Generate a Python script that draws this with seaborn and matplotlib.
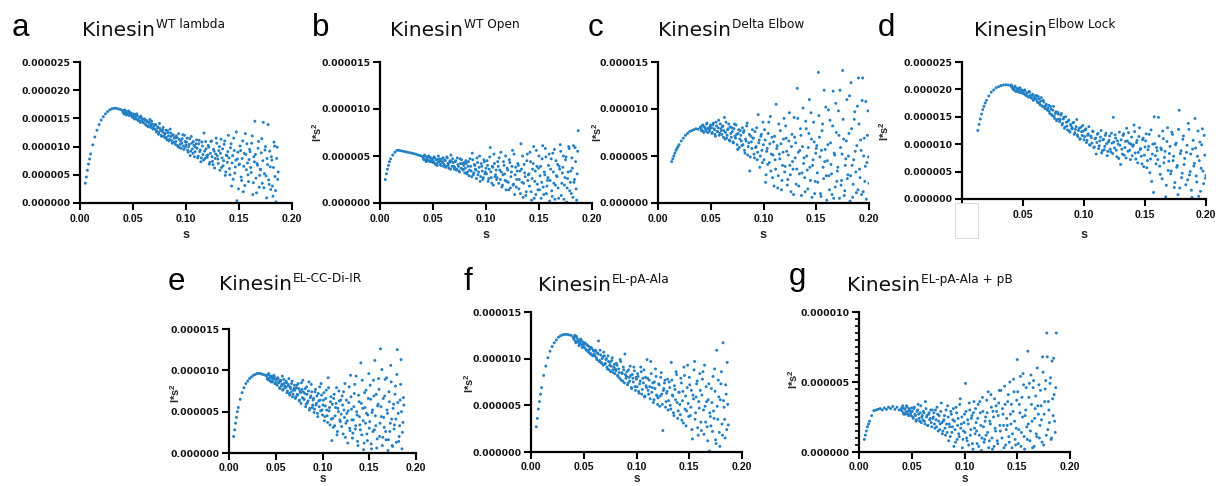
import numpy as np
import pandas as pd
import matplotlib
matplotlib.use("Agg")
import matplotlib.pyplot as plt
import seaborn as sns
from matplotlib.patches import Rectangle
from matplotlib.ticker import FixedLocator

W, H = 1218, 486

# ---------------- data ----------------
# main s grid in 1e-3 units, half-step s grid in 1e-4 units, I*s^2 in 1e-6 units
S_GRID_A = [5, 6, 7, 8, 9, 10, 12, 14, 16, 18, 20, 22, 24, 26, 28, 30, 32, 34, 36, 38, 40,
            41, 42, 43, 44, 45, 46, 47, 48, 49, 50,
            51, 52, 53, 54, 55, 56, 57, 58, 59, 60,
            61, 62, 63, 64, 65, 66, 67, 68, 69, 70,
            71, 72, 73, 74, 75, 76, 77, 78, 79, 80,
            81, 82, 83, 84, 85, 86, 87, 88, 89, 90,
            91, 92, 93, 94, 95, 96, 97, 98, 99, 100,
            101, 102, 103, 104, 105, 106, 107, 108, 109, 110,
            111, 112, 113, 114, 115, 116, 117, 118, 119, 120,
            121, 122, 123, 124, 125, 126, 127, 128, 129, 130,
            131, 132, 133, 134, 135, 136, 137, 138, 139, 140,
            141, 142, 143, 144, 145, 146, 147, 148, 149, 150,
            151, 152, 153, 154, 155, 156, 157, 158, 159, 160,
            161, 162, 163, 164, 165, 166, 167, 168, 169, 170,
            171, 172, 173, 174, 175, 176, 177, 178, 179, 180,
            181, 182, 183, 184, 185, 186, 187]

S_GRID_C = [13, 14, 15, 16, 17, 18, 19, 20, 22, 24, 26, 28, 30, 32, 34, 36, 38, 40,
            41, 42, 43, 44, 45, 46, 47, 48, 49, 50,
            51, 52, 53, 54, 55, 56, 57, 58, 59, 60,
            61, 62, 63, 64, 65, 66, 67, 68, 69, 70,
            71, 72, 73, 74, 75, 76, 77, 78, 79, 80,
            81, 82, 83, 84, 85, 86, 87, 88, 89, 90,
            91, 92, 93, 94, 95, 96, 97, 98, 99, 100,
            101, 102, 103, 104, 105, 106, 107, 108, 109, 110,
            111, 112, 113, 114, 115, 116, 117, 118, 119, 120,
            121, 122, 123, 124, 125, 126, 127, 128, 129, 130,
            131, 132, 133, 134, 135, 136, 137, 138, 139, 140,
            141, 142, 143, 144, 145, 146, 147, 148, 149, 150,
            151, 152, 153, 154, 155, 156, 157, 158, 159, 160,
            161, 162, 163, 164, 165, 166, 167, 168, 169, 170,
            171, 172, 173, 174, 175, 176, 177, 178, 179, 180,
            181, 182, 183, 184, 185, 186, 187, 188, 189, 190,
            191, 192, 193, 194, 195, 196, 197, 198, 199, 200]

S_HALF_A = [405, 415, 425, 435, 445, 455, 465, 475, 485, 495,
            505, 515, 525, 535, 545, 555, 565, 575, 585, 595,
            605, 615, 625, 635, 645, 655, 665, 675, 685, 695,
            705, 715, 725, 735, 745, 755, 765, 775, 785, 795,
            805, 815, 825, 835, 845, 855, 865, 875, 885, 895,
            905, 915, 925, 935, 945, 955, 965, 975, 985, 995,
            1005, 1015, 1025, 1035, 1045, 1055, 1065, 1075, 1085, 1095,
            1105, 1115, 1125, 1135, 1145, 1155, 1165, 1175, 1185, 1195,
            1205, 1215, 1225, 1235, 1245, 1255, 1265, 1275, 1285, 1295,
            1305, 1315, 1325, 1335, 1345, 1355, 1365, 1375, 1385, 1395,
            1405, 1415, 1425, 1435, 1445, 1455, 1465, 1475, 1485, 1495,
            1505, 1515, 1525, 1535, 1545, 1555, 1565, 1575, 1585, 1595,
            1605, 1615, 1625, 1635, 1645, 1655, 1665, 1675, 1685, 1695,
            1705, 1715, 1725, 1735, 1745, 1755, 1765, 1775, 1785, 1795,
            1805, 1815, 1825, 1835, 1845, 1855, 1865]

S_HALF_C = [405, 415, 425, 435, 445, 455, 465, 475, 485, 495,
            505, 515, 525, 535, 545, 555, 565, 575, 585, 595,
            605, 615, 625, 635, 645, 655, 665, 675, 685, 695,
            705, 715, 725, 735, 745, 755, 765, 775, 785, 795,
            805, 815, 825, 835, 845, 855, 865, 875, 885, 895,
            905, 915, 925, 935, 945, 955, 965, 975, 985, 995,
            1005, 1015, 1025, 1035, 1045, 1055, 1065, 1075, 1085, 1095,
            1105, 1115, 1125, 1135, 1145, 1155, 1165, 1175, 1185, 1195,
            1205, 1215, 1225, 1235, 1245, 1255, 1265, 1275, 1285, 1295,
            1305, 1315, 1325, 1335, 1345, 1355, 1365, 1375, 1385, 1395,
            1405, 1415, 1425, 1435, 1445, 1455, 1465, 1475, 1485, 1495,
            1505, 1515, 1525, 1535, 1545, 1555, 1565, 1575, 1585, 1595,
            1605, 1615, 1625, 1635, 1645, 1655, 1665, 1675, 1685, 1695,
            1705, 1715, 1725, 1735, 1745, 1755, 1765, 1775, 1785, 1795,
            1805, 1815, 1825, 1835, 1845, 1855, 1865, 1875, 1885, 1895,
            1905, 1915, 1925, 1935, 1945, 1955, 1965, 1975, 1985, 1995]

# ---- panel a: Kinesin WT lambda ----
Y_WT_LAMBDA = [3.5, 4.6, 5.8, 6.9, 7.8, 8.7, 10.3, 11.7, 12.9, 13.9, 14.7, 15.3, 15.8, 16.2, 16.5, 16.7, 16.8, 16.8, 16.7, 16.6, 16.4,
               16.0, 16.5, 15.9, 16.2, 15.7, 16.3, 15.6, 15.9, 15.3, 15.8,
               15.1, 15.7, 14.9, 15.5, 14.6, 15.2, 14.3, 15.0, 14.8, 14.2,
               14.9, 13.9, 14.6, 13.6, 14.3, 14.8, 13.4, 14.0, 13.1, 13.9,
               13.8, 12.6, 13.3, 12.2, 14.1, 12.9, 11.8, 13.0, 12.4, 11.6,
               12.9, 11.2, 12.5, 11.0, 13.1, 11.8, 10.6, 12.1, 11.5, 10.4,
               11.9, 10.2, 12.3, 9.8, 11.0, 10.6, 12.1, 9.5, 10.9, 10.3,
               11.5, 9.0, 10.4, 8.4, 11.8, 9.6, 10.9, 8.2, 9.9, 11.2,
               8.0, 10.5, 9.1, 7.3, 10.8, 8.6, 12.4, 7.9, 9.6, 8.1,
               10.2, 6.9, 8.8, 11.0, 7.4, 9.5, 6.2, 8.7, 10.6, 7.8,
               9.3, 5.8, 11.3, 8.0, 6.6, 10.4, 4.9, 8.5, 7.2, 12.0,
               6.1, 9.8, 3.0, 8.4, 11.5, 5.3, 7.6, 0.4, 9.0, 6.8,
               10.1, 4.6, 7.9, 2.0, 8.8, 12.3, 5.9, 7.1, 3.8, 9.5,
               6.3, 10.6, 1.5, 8.2, 14.5, 4.4, 7.0, 9.7, 2.8, 6.0,
               8.9, 3.5, 14.3, 5.2, 10.0, 0.9, 6.8, 4.1, 9.2, 2.4,
               7.6, 1.2, 10.8, 4.7, 0.2, 9.9, 5.5]
Y_WT_LAMBDA_HALF = [16.2, 15.8, 16.4, 15.6, 16.1, 15.9, 15.5, 16.0, 15.6, 15.2,
                    15.6, 14.9, 15.3, 15.8, 14.7, 15.0, 14.5, 15.4, 14.4, 14.9,
                    14.2, 14.7, 13.8, 14.4, 13.5, 14.1, 13.7, 14.5, 13.3, 13.6,
                    13.1, 13.9, 12.8, 13.5, 12.5, 13.2, 12.0, 12.7, 13.4, 11.9,
                    12.3, 11.6, 12.8, 11.9, 11.3, 12.4, 11.1, 12.0, 10.8, 11.6,
                    10.9, 11.6, 10.0, 11.3, 10.4, 9.7, 11.4, 10.1, 12.0, 9.9,
                    10.8, 9.4, 10.0, 11.4, 9.2, 10.6, 8.8, 10.2, 9.1, 10.5,
                    9.7, 8.3, 11.1, 9.4, 8.0, 10.1, 7.6, 9.2, 10.9, 8.4,
                    8.5, 9.9, 7.2, 10.9, 8.2, 6.8, 9.2, 7.9, 11.5, 8.4,
                    7.0, 10.0, 8.8, 6.3, 9.6, 7.5, 11.0, 5.5, 8.4, 9.1,
                    8.0, 5.0, 10.5, 7.1, 4.2, 9.3, 6.4, 12.6, 7.8, 2.5,
                    6.9, 9.3, 4.0, 11.0, 6.5, 3.1, 8.6, 10.5, 5.0, 7.7,
                    9.1, 5.4, 11.9, 3.6, 7.3, 8.6, 1.8, 6.7, 10.9, 4.9,
                    5.9, 11.4, 7.5, 2.7, 9.4, 4.8, 7.9, 13.9, 3.3, 6.4,
                    8.2, 3.0, 6.3, 10.1, 2.2, 7.9, 4.2]

# ---- panel b: Kinesin WT Open ----
Y_WT_OPEN = [2.5, 3.1, 3.6, 4.0, 4.4, 4.7, 5.1, 5.4, 5.6, 5.6, 5.55, 5.5, 5.45, 5.4, 5.35, 5.3, 5.25, 5.2, 5.1, 5.05, 4.95,
             4.7, 5.1, 4.6, 4.9, 4.5, 5.0, 4.4, 4.8, 4.6, 4.3,
             4.9, 4.2, 4.6, 4.0, 5.0, 4.4, 4.1, 4.7, 4.3, 3.9,
             4.6, 3.8, 4.9, 4.2, 3.7, 4.5, 5.1, 3.9, 4.3, 3.6,
             4.4, 3.5, 4.8, 3.9, 3.3, 4.2, 4.6, 3.6, 4.0, 3.2,
             4.5, 3.1, 3.9, 2.9, 4.7, 3.4, 5.3, 3.0, 4.1, 3.6,
             2.6, 4.3, 3.3, 5.0, 2.8, 3.9, 2.5, 4.6, 3.1, 3.7,
             4.5, 2.3, 3.6, 5.9, 2.7, 3.9, 1.9, 4.2, 3.0, 2.5,
             4.4, 2.1, 3.5, 5.4, 1.7, 3.0, 4.0, 2.4, 1.4, 3.7,
             2.2, 4.6, 1.6, 3.3, 5.6, 2.0, 0.9, 3.8, 2.5, 4.2,
             1.5, 3.4, 6.3, 2.2, 0.6, 4.1, 2.8, 1.2, 5.2, 3.0,
             1.8, 4.4, 0.3, 3.6, 6.0, 2.3, 0.9, 3.9, 1.4, 5.0,
             2.9, 0.5, 4.7, 1.7, 3.3, 5.8, 1.0, 2.4, 4.0, 0.2,
             3.6, 1.3, 5.3, 2.1, 0.4, 4.5, 2.8, 1.6, 3.9, 6.2,
             0.8, 3.2, 5.0, 1.9, 4.6, 0.1, 2.6, 6.0, 1.3, 3.4,
             4.8, 0.6, 2.2, 5.9, 1.5, 3.1, 7.7]
Y_WT_OPEN_HALF = [4.9, 4.6, 5.0, 4.4, 4.7, 4.9, 4.5, 4.8, 4.4, 4.7,
                  4.4, 4.8, 4.1, 4.6, 4.3, 4.7, 4.5, 4.0, 4.4, 4.8,
                  4.1, 4.5, 3.9, 4.8, 4.0, 4.3, 3.6, 4.4, 4.7, 3.9,
                  3.8, 4.5, 3.6, 4.1, 3.4, 4.7, 3.7, 4.2, 3.5, 4.3,
                  3.7, 4.2, 3.3, 4.4, 3.5, 3.9, 2.8, 4.6, 3.2, 4.0,
                  3.5, 4.8, 3.0, 3.8, 2.3, 4.2, 3.4, 2.7, 4.4, 3.3,
                  3.1, 4.0, 2.6, 4.9, 3.3, 2.1, 3.8, 5.2, 2.8, 3.5,
                  2.7, 3.9, 4.8, 2.5, 3.3, 1.9, 4.4, 3.1, 5.0, 2.3,
                  3.5, 1.4, 4.3, 2.8, 3.9, 1.9, 5.2, 3.0, 1.7, 3.4,
                  4.0, 2.5, 1.0, 3.6, 5.0, 2.1, 3.2, 0.8, 4.5, 2.4,
                  3.1, 5.4, 1.2, 2.6, 4.2, 0.5, 3.4, 5.6, 2.0, 3.7,
                  1.4, 3.9, 2.2, 6.1, 0.9, 3.0, 4.9, 1.8, 2.7, 5.2,
                  2.4, 4.7, 0.7, 3.3, 5.7, 1.9, 2.9, 4.1, 0.5, 3.6,
                  5.5, 2.1, 3.8, 0.4, 2.7, 4.9, 1.6, 3.3, 5.8, 2.2,
                  1.0, 3.7, 6.1, 2.5, 4.4, 0.3, 5.5]

# ---- panel c: Kinesin Delta Elbow ----
Y_DELTA_ELBOW = [4.4, 4.7, 5.0, 5.3, 5.6, 5.8, 6.0, 6.2, 6.6, 6.9, 7.2, 7.4, 7.6, 7.7, 7.8, 7.9, 7.85, 8.0,
                 7.7, 8.2, 7.6, 8.1, 7.9, 8.4, 7.5, 8.0, 7.8, 8.3,
                 7.4, 8.3, 7.9, 7.3, 8.6, 7.6, 8.0, 7.2, 8.4, 7.7,
                 8.1, 7.0, 9.1, 7.5, 6.9, 7.8, 8.4, 6.6, 7.4, 8.0,
                 6.5, 7.9, 7.1, 8.3, 6.2, 7.4, 5.9, 7.7, 6.6, 8.0,
                 7.5, 5.6, 6.8, 8.2, 5.1, 6.4, 3.4, 7.1, 5.8, 6.9,
                 5.2, 7.6, 6.0, 4.6, 9.4, 6.7, 5.0, 7.3, 4.3, 6.2,
                 7.8, 2.2, 5.5, 4.1, 8.6, 6.3, 3.4, 7.0, 5.1, 1.8,
                 4.6, 10.5, 6.1, 2.9, 5.2, 7.7, 1.4, 4.0, 6.8, 3.3,
                 8.2, 5.5, 2.5, 6.6, 4.0, 1.2, 7.3, 3.6, 9.1, 4.8,
                 2.0, 12.2, 5.4, 3.1, 7.9, 0.8, 6.0, 4.2, 2.7, 8.7,
                 5.0, 1.5, 7.4, 3.8, 9.6, 0.6, 4.6, 6.5, 2.3, 5.8,
                 3.2, 13.9, 7.0, 1.0, 5.6, 8.4, 2.6, 4.4, 10.2, 0.3,
                 6.2, 2.9, 8.8, 4.1, 0.9, 11.9, 5.3, 1.7, 7.5, 3.4,
                 9.8, 0.5, 5.9, 2.4, 14.1, 6.8, 1.3, 4.7, 11.0, 3.0,
                 7.4, 0.2, 12.8, 4.0, 2.0, 8.9, 5.5, 1.1, 10.3, 13.3,
                 3.6, 6.7, 0.9, 13.3, 5.0, 2.3, 10.8, 4.3, 9.8, 2.1]
Y_DELTA_ELBOW_HALF = [8.1, 7.8, 8.3, 7.5, 8.0, 7.7, 8.5, 7.9, 7.6, 8.2,
                      8.0, 7.5, 8.5, 7.8, 7.1, 8.2, 7.6, 8.8, 7.4, 7.9,
                      7.3, 8.2, 7.7, 6.8, 8.6, 7.2, 7.9, 6.7, 8.1, 7.0,
                      7.6, 6.4, 8.4, 6.9, 7.3, 5.7, 7.8, 6.8, 7.2, 6.1,
                      6.2, 7.7, 5.3, 6.6, 8.5, 6.0, 7.3, 4.9, 6.5, 7.8,
                      6.9, 4.8, 5.9, 8.0, 5.4, 6.4, 3.8, 7.1, 5.6, 8.6,
                      4.6, 6.7, 3.0, 5.8, 7.4, 4.3, 9.2, 5.2, 2.7, 6.5,
                      7.1, 3.6, 5.8, 1.6, 8.4, 4.7, 6.3, 2.4, 5.4, 9.0,
                      3.9, 6.9, 1.9, 5.1, 9.6, 3.0, 6.0, 4.4, 0.9, 7.0,
                      6.4, 3.6, 9.0, 1.8, 5.6, 7.2, 3.2, 10.1, 4.8, 1.2,
                      7.9, 3.5, 5.9, 11.0, 2.4, 6.8, 4.0, 8.6, 1.0, 5.3,
                      6.1, 2.2, 9.3, 4.9, 0.7, 7.7, 3.8, 12.0, 5.7, 2.9,
                      4.5, 9.9, 1.4, 6.4, 3.1, 8.2, 0.5, 5.1, 10.6, 2.3,
                      3.8, 7.2, 12.0, 1.9, 5.2, 8.9, 0.8, 4.0, 6.6, 2.6,
                      5.0, 11.4, 2.9, 7.9, 0.6, 4.6, 9.7, 3.3, 6.1, 1.4,
                      8.4, 2.7, 5.6, 10.9, 1.2, 6.9, 3.9, 0.4, 7.2, 4.9]

# ---- panel d: Kinesin Elbow Lock ----
Y_ELBOW_LOCK = [12.5, 13.6, 14.6, 15.5, 16.3, 16.9, 17.5, 18.0, 18.8, 19.5, 19.9, 20.3, 20.5, 20.7, 20.8, 20.85, 20.8, 20.6,
                20.5, 20.0, 20.3, 19.7, 20.2, 19.8, 20.1, 19.4, 19.9, 19.3,
                19.7, 19.0, 19.4, 18.7, 19.6, 18.9, 18.4, 19.1, 18.2, 18.8,
                18.9, 17.6, 18.3, 17.2, 18.5, 16.9, 17.7, 16.5, 17.3, 16.2,
                17.1, 15.6, 16.4, 15.2, 16.9, 14.7, 15.9, 14.5, 15.5, 14.1,
                15.3, 13.5, 14.6, 12.9, 15.0, 13.3, 14.2, 12.4, 13.6, 12.8,
                13.9, 11.8, 12.7, 14.5, 11.4, 12.9, 11.0, 12.3, 13.4, 10.8,
                12.6, 10.3, 11.6, 13.2, 9.8, 11.2, 12.4, 9.4, 11.0, 8.2,
                11.8, 9.2, 10.6, 12.5, 8.8, 10.9, 9.6, 12.0, 7.9, 10.4,
                11.5, 8.6, 10.2, 14.9, 9.3, 11.1, 7.7, 10.0, 12.2, 6.3,
                9.1, 11.6, 8.0, 10.5, 12.9, 8.7, 10.2, 7.2, 11.3, 9.6,
                13.5, 8.4, 10.3, 6.6, 11.4, 9.0, 7.8, 10.8, 5.9, 9.5,
                11.9, 7.0, 9.6, 4.8, 12.6, 8.2, 1.2, 10.1, 6.4, 8.8,
                14.9, 6.0, 9.3, 3.7, 11.0, 7.6, 0.4, 10.5, 5.2, 8.3,
                4.6, 12.2, 7.0, 2.1, 9.9, 5.8, 0.8, 16.2, 8.3, 3.9,
                10.9, 6.3, -0.3, 8.5, 3.5, 12.7, 5.0, 1.6, 9.1, 6.0,
                14.7, 4.2, 7.8, 0.5, 10.4, 5.6, 12.8, 2.8, 8.0, 4.3]
Y_ELBOW_LOCK_HALF = [20.8, 20.2, 19.9, 20.6, 19.6, 20.1, 19.5, 20.3, 19.6, 19.8,
                     19.2, 19.9, 18.9, 19.3, 18.6, 19.5, 18.5, 18.9, 18.0, 18.6,
                     18.3, 17.9, 18.7, 17.5, 17.9, 17.0, 18.0, 16.8, 17.0, 16.4,
                     16.6, 16.0, 16.9, 15.4, 16.2, 15.1, 15.6, 14.3, 15.8, 14.6,
                     14.5, 15.6, 13.8, 14.9, 13.1, 14.0, 12.6, 14.4, 12.2, 13.3,
                     12.9, 14.0, 12.1, 13.2, 11.7, 12.5, 10.9, 13.1, 11.6, 12.4,
                     11.4, 12.8, 10.7, 11.9, 9.9, 11.5, 10.2, 12.3, 9.5, 11.1,
                     10.3, 12.0, 9.7, 11.3, 8.4, 10.8, 9.0, 11.6, 10.1, 8.7,
                     10.7, 9.1, 12.0, 8.3, 10.4, 11.7, 8.9, 10.6, 7.4, 9.8,
                     10.8, 8.2, 11.9, 9.4, 7.5, 10.6, 12.1, 8.9, 10.0, 7.9,
                     9.9, 12.3, 7.3, 10.7, 8.5, 13.0, 9.2, 6.4, 11.1, 8.0,
                     10.6, 5.7, 9.0, 11.8, 7.3, 3.2, 10.0, 15.0, 7.9, 9.4,
                     7.2, 11.5, 4.5, 9.0, 12.4, 6.6, 8.7, 2.5, 13.0, 6.9,
                     9.6, 5.1, 11.8, 7.8, 3.0, 10.2, 6.1, 12.7, 2.0, 8.8,
                     4.7, 11.5, 7.4, 2.6, 9.8, 13.8, 4.4, 8.2, 0.3, 10.7,
                     6.5, 9.3, 3.1, 12.4, 7.0, 1.4, 9.9, 5.1, 11.6, 3.8]

# ---- panel e: Kinesin EL-CC-Di-IR ----
Y_EL_CC_DI_IR = [2.0, 2.8, 3.6, 4.3, 5.0, 5.5, 6.5, 7.3, 7.9, 8.4, 8.7, 9.0, 9.2, 9.4, 9.5, 9.6, 9.65, 9.6, 9.5, 9.45, 9.3,
                 9.0, 9.5, 8.8, 9.3, 8.6, 9.1, 8.9, 9.4, 8.4, 8.9,
                 8.3, 9.1, 8.6, 7.9, 8.8, 8.1, 9.3, 7.7, 8.4, 8.0,
                 8.7, 7.3, 8.1, 9.0, 7.0, 7.8, 8.4, 6.8, 7.6, 8.2,
                 6.6, 7.9, 7.1, 8.4, 6.3, 7.5, 6.0, 7.7, 8.8, 6.5,
                 7.2, 5.6, 8.0, 6.1, 7.5, 5.2, 6.7, 8.3, 5.5, 6.4,
                 4.9, 7.4, 5.8, 6.9, 4.4, 6.3, 8.0, 5.1, 7.0, 4.6,
                 6.4, 3.9, 5.7, 7.6, 4.5, 9.1, 5.1, 3.4, 6.8, 1.5,
                 4.2, 6.6, 3.3, 5.5, 7.9, 2.6, 5.0, 6.3, 3.8, 4.7,
                 6.9, 2.3, 5.2, 8.4, 3.6, 4.8, 1.2, 6.1, 3.0, 9.4,
                 5.3, 1.8, 4.0, 7.2, 2.9, 9.3, 4.6, 0.9, 6.2, 3.4,
                 10.9, 2.2, 5.4, 0.4, 7.3, 3.6, 4.8, 1.5, 6.6, 3.0,
                 8.2, 1.1, 4.9, 2.6, 6.9, 11.2, 3.3, 0.6, 5.7, 9.0,
                 2.0, 12.6, 4.4, 0.9, 6.6, 3.1, 8.9, 1.6, 5.2, 0.3,
                 7.4, 2.6, 10.6, 4.1, 0.8, 5.9, 3.4, 8.1, 1.3, 12.5,
                 4.8, 2.0, 6.4, 11.3, 0.5, 3.7, 5.8]
Y_EL_CC_DI_IR_HALF = [9.4, 8.9, 9.6, 9.1, 8.7, 9.3, 8.6, 9.0, 9.2, 8.5,
                      8.8, 8.2, 9.0, 8.5, 7.8, 8.7, 8.3, 7.6, 8.9, 8.1,
                      7.9, 8.5, 7.5, 8.3, 7.2, 8.0, 7.4, 8.7, 7.1, 7.8,
                      7.6, 6.8, 8.2, 7.0, 7.8, 6.4, 7.3, 8.5, 6.7, 7.4,
                      6.5, 7.8, 5.9, 7.1, 6.3, 8.6, 5.4, 6.9, 7.4, 5.8,
                      6.6, 5.3, 7.7, 6.0, 4.8, 7.2, 5.6, 6.4, 8.4, 5.2,
                      5.8, 7.3, 4.4, 6.6, 5.2, 3.7, 7.9, 5.5, 6.2, 4.1,
                      5.9, 3.1, 7.1, 4.5, 6.0, 2.2, 5.4, 7.5, 4.0, 6.4,
                      3.2, 5.8, 7.4, 4.3, 1.9, 6.4, 3.9, 5.1, 8.0, 2.7,
                      6.8, 4.0, 2.4, 5.6, 8.3, 3.3, 5.0, 1.4, 7.0, 4.4,
                      2.8, 6.0, 8.8, 3.9, 1.2, 5.5, 7.6, 2.3, 4.6, 9.6,
                      3.8, 6.5, 0.5, 5.2, 8.8, 2.8, 4.5, 7.1, 1.7, 5.9,
                      7.7, 3.6, 5.6, 10.1, 1.9, 4.3, 6.9, 2.6, 9.1, 4.8,
                      1.6, 6.2, 3.6, 8.6, 0.9, 5.4, 2.9, 7.1, 4.1, 9.5,
                      6.1, 1.4, 3.3, 8.3, 5.0, 2.5, 6.7]

# ---- panel f: Kinesin EL-pA-Ala ----
Y_EL_PA_ALA = [2.7, 3.6, 4.6, 5.4, 6.2, 6.9, 8.2, 9.2, 10.1, 10.8, 11.3, 11.7, 12.0, 12.3, 12.45, 12.55, 12.6, 12.6, 12.55, 12.5, 12.3,
               12.3, 11.9, 12.4, 11.8, 12.0, 11.6, 12.1, 11.5, 11.8, 11.3,
               11.7, 11.0, 11.5, 10.8, 11.3, 10.6, 11.2, 10.4, 10.9, 10.5,
               10.9, 10.1, 10.6, 11.9, 9.8, 10.4, 9.5, 10.2, 10.7, 9.4,
               9.9, 9.1, 10.3, 8.8, 9.6, 9.2, 10.1, 8.5, 9.4, 8.9,
               9.5, 8.2, 8.9, 7.9, 9.7, 8.5, 7.6, 8.8, 10.5, 7.9,
               8.6, 7.4, 8.0, 9.2, 6.9, 8.3, 7.5, 8.7, 6.6, 7.8,
               8.4, 6.5, 7.3, 9.1, 6.2, 7.9, 8.8, 6.0, 7.1, 9.9,
               6.6, 7.7, 5.7, 8.4, 6.9, 5.3, 7.5, 8.9, 6.1, 5.1,
               7.3, 4.9, 8.0, 6.2, 2.3, 6.8, 7.7, 5.4, 6.5, 4.5,
               7.5, 5.0, 9.6, 6.1, 4.2, 7.1, 5.6, 8.3, 3.6, 6.4,
               5.1, 7.9, 3.4, 6.5, 9.1, 4.6, 2.8, 6.9, 5.2, 8.0,
               3.9, 6.6, 1.4, 5.7, 9.7, 4.2, 7.3, 2.6, 5.4, 8.4,
               3.2, 6.1, 8.6, 1.9, 4.9, 7.0, 2.7, 5.6, 0.1, 3.8,
               6.8, 2.2, 4.4, 8.9, 1.3, 10.9, 3.5, 5.9, 0.6, 7.3,
               3.0, 11.7, 4.8, 1.5, 6.2, 9.6, 2.9]
Y_EL_PA_ALA_HALF = [12.1, 12.5, 11.7, 12.2, 11.9, 11.4, 11.8, 12.0, 11.2, 11.6,
                    11.2, 11.6, 10.9, 11.4, 10.7, 11.0, 10.5, 11.1, 10.3, 10.8,
                    10.3, 10.8, 9.9, 10.5, 9.7, 10.9, 9.6, 10.0, 9.3, 10.3,
                    9.5, 10.0, 8.9, 9.7, 9.3, 8.6, 9.8, 8.8, 9.1, 8.4,
                    8.7, 9.3, 8.1, 8.5, 9.9, 7.7, 8.4, 9.1, 7.4, 8.3,
                    8.1, 7.2, 8.8, 7.6, 8.2, 6.8, 7.9, 9.1, 7.0, 8.0,
                    7.0, 8.1, 6.3, 7.6, 8.6, 6.7, 7.4, 5.9, 8.0, 6.9,
                    7.9, 6.2, 7.0, 9.7, 6.4, 7.4, 5.6, 6.8, 8.1, 6.0,
                    5.8, 7.2, 6.0, 8.5, 5.1, 6.6, 7.4, 4.8, 6.3, 7.8,
                    5.5, 6.9, 4.6, 7.7, 6.0, 3.9, 6.7, 8.6, 5.3, 4.4,
                    6.4, 4.0, 7.4, 5.5, 3.1, 8.2, 6.0, 4.4, 9.3, 3.8,
                    7.2, 4.8, 2.4, 6.1, 8.8, 3.5, 5.9, 7.6, 1.8, 4.7,
                    6.6, 2.3, 7.8, 4.5, 9.3, 3.2, 5.4, 1.2, 7.3, 4.2,
                    2.8, 5.3, 8.1, 3.6, 6.5, 0.9, 4.9, 7.7, 2.1, 5.6,
                    8.6, 1.8, 5.5, 3.5, 7.2, 2.4, 5.1]

# ---- panel g: Kinesin EL-pA-Ala + pB ----
Y_EL_PA_ALA_PB = [0.9, 1.2, 1.5, 1.8, 2.0, 2.2, 2.6, 2.95, 3.0, 3.05, 3.1, 3.0, 3.15, 3.05, 3.2, 3.1, 3.25, 3.05, 3.2, 3.0, 3.1,
                  3.2, 2.8, 3.1, 2.7, 3.3, 2.9, 2.6, 3.0, 2.75, 3.15,
                  2.5, 3.1, 2.7, 2.2, 2.9, 3.4, 2.4, 2.8, 2.1, 2.6,
                  2.9, 2.2, 3.6, 2.5, 1.9, 2.7, 2.3, 3.0, 1.8, 2.4,
                  2.8, 1.7, 2.3, 3.2, 1.5, 2.6, 2.0, 3.5, 1.3, 2.2,
                  2.6, 1.2, 2.0, 3.3, 0.8, 1.8, 2.9, 1.4, 2.3, 0.4,
                  1.6, 3.2, 0.9, 2.4, 1.1, 3.8, 2.0, 0.3, 1.5, 2.7,
                  4.9, 1.0, 2.3, 0.5, 3.0, 1.6, 2.6, 0.2, 3.6, 1.3,
                  2.1, 0.6, 3.4, 1.2, 2.8, 0.1, 3.9, 1.8, 0.9, 2.5,
                  3.7, 1.4, 0.3, 2.2, 4.1, 1.0, 2.9, 0.4, 1.7, 3.3,
                  0.8, 2.6, 4.4, 1.5, 0.0, 3.1, 1.9, 4.7, 0.5, 2.4,
                  3.6, 1.1, 5.0, 2.0, 0.3, 2.9, 4.3, 0.9, 1.7, 6.6,
                  0.6, 3.4, 5.4, 1.4, 2.5, 4.8, 0.2, 3.0, 1.8, 7.2,
                  3.9, 0.8, 5.5, 2.2, 4.6, 0.4, 3.1, 1.3, 6.0, 2.7,
                  1.0, 4.4, 2.3, 6.8, 0.5, 3.6, 5.1, 8.5, 1.6, 3.0,
                  4.9, 0.9, 6.5, 2.6, 4.1, 1.4, 8.5]
Y_EL_PA_ALA_PB_HALF = [2.95, 3.3, 2.7, 3.05, 2.85, 3.2, 2.7, 3.1, 2.9, 2.6,
                       2.9, 2.4, 3.2, 2.6, 2.3, 3.0, 2.7, 2.2, 3.3, 2.5,
                       2.3, 2.8, 2.0, 3.1, 2.6, 1.9, 2.8, 2.4, 2.1, 3.0,
                       2.5, 2.0, 3.0, 1.8, 2.7, 2.2, 1.6, 2.9, 2.1, 1.5,
                       2.3, 1.7, 3.0, 1.4, 2.5, 2.0, 1.1, 2.7, 1.8, 3.1,
                       2.2, 0.7, 2.8, 1.9, 1.3, 3.4, 1.7, 2.5, 0.9, 2.1,
                       1.4, 2.9, 0.8, 2.0, 3.5, 1.2, 2.4, 0.6, 2.8, 1.7,
                       3.1, 1.5, 2.4, 0.4, 3.6, 1.9, 1.0, 2.9, 0.7, 2.2,
                       1.2, 2.8, 4.3, 0.8, 2.0, 3.2, 0.2, 2.5, 3.8, 1.5,
                       2.9, 0.6, 3.5, 1.9, 4.4, 1.0, 2.7, 0.3, 3.4, 1.6,
                       1.9, 4.1, 0.7, 2.7, 3.4, 1.3, 5.2, 2.2, 0.5, 3.7,
                       4.3, 1.6, 2.8, 0.4, 3.9, 5.6, 1.1, 2.6, 4.6, 0.9,
                       2.0, 4.9, 1.5, 3.4, 0.3, 5.1, 2.4, 4.0, 1.1, 3.3,
                       4.8, 1.9, 3.3, 0.7, 5.7, 2.7, 4.5, 1.2, 6.8, 3.6,
                       2.1, 5.3, 1.0, 3.8, 6.7, 2.2, 4.6]

LETTERS = ["a", "b", "c", "d", "e", "f", "g"]
SUPERSCRIPTS = ["WT lambda", "WT Open", "Delta Elbow", "Elbow Lock",
                "EL-CC-Di-IR", "EL-pA-Ala", "EL-pA-Ala + pB"]
SERIES = [(S_GRID_A, Y_WT_LAMBDA, S_HALF_A, Y_WT_LAMBDA_HALF),
          (S_GRID_A, Y_WT_OPEN, S_HALF_A, Y_WT_OPEN_HALF),
          (S_GRID_C, Y_DELTA_ELBOW, S_HALF_C, Y_DELTA_ELBOW_HALF),
          (S_GRID_C, Y_ELBOW_LOCK, S_HALF_C, Y_ELBOW_LOCK_HALF),
          (S_GRID_A, Y_EL_CC_DI_IR, S_HALF_A, Y_EL_CC_DI_IR_HALF),
          (S_GRID_A, Y_EL_PA_ALA, S_HALF_A, Y_EL_PA_ALA_HALF),
          (S_GRID_A, Y_EL_PA_ALA_PB, S_HALF_A, Y_EL_PA_ALA_PB_HALF)]
Y_MAX = [25, 15, 15, 25, 15, 15, 10]
Y_STEP = [5, 5, 5, 5, 5, 5, 5]
X_TICKS = [0.00, 0.05, 0.10, 0.15, 0.20]

# ---------------- layout (pixels) ----------------
AX_BOX = [(80, 62, 292, 203), (380, 62, 592, 203), (658, 62, 869, 203), (962, 62, 1206, 199),
          (229, 329, 416, 453), (531, 312, 742, 452), (859, 312, 1070, 452)]
LETTER_POS = [(12, 36), (312, 36), (588, 36), (878, 36), (168, 290), (463, 290), (789, 285)]
TITLE_POS = [(82, 36), (390, 36), (658, 36), (974, 36), (219, 290), (538, 291), (847, 291)]
YLAB_POS = [None, (317, 132), (597, 132), (884, 131), (175, 393), (469, 383), (793, 379)]
XLAB_Y = [235, 235, 235, 235, 479, 479, 479]
XLAB_SIZE = [9, 9, 9, 9, 8.5, 8.5, 8.5]

BLUE = "#2380c4"

sns.set_style("ticks")
plt.rcParams["font.family"] = ["DejaVu Sans"]
plt.rcParams["mathtext.fontset"] = "custom"
plt.rcParams["mathtext.rm"] = "Liberation Sans"
plt.rcParams["mathtext.bf"] = "Liberation Sans:bold"

fig = plt.figure(figsize=(W / 100, H / 100), dpi=100)
fig.patch.set_facecolor("white")


def fx(x):
    return x / W


def fy(y):
    return 1 - y / H


def pair(sv, yv, scale):
    n = min(len(sv), len(yv))
    if len(sv) != len(yv):
        print("length mismatch", len(sv), len(yv))
    return (np.asarray(sv[:n], float) / scale, np.asarray(yv[:n], float))


for i in range(7):
    l, t, r, b = AX_BOX[i]
    ax = fig.add_axes([fx(l), fy(b), (r - l) / W, (b - t) / H])
    s1, y1, s2, y2 = SERIES[i]
    sa, ya = pair(s1, y1, 1000.0)
    sb, yb = pair(s2, y2, 10000.0)
    df = pd.DataFrame({"s": np.concatenate([sa, sb]),
                       "Is2": np.concatenate([ya, yb]) * 1e-6})
    sns.scatterplot(data=df, x="s", y="Is2", ax=ax, s=4.5, color=BLUE,
                    linewidth=0, edgecolor="none", legend=False)
    ax.set_xlim(0, 0.2)
    ax.set_ylim(0, Y_MAX[i] * 1e-6)
    ax.set_xlabel("")
    ax.set_ylabel("")
    ax.set_xticks(X_TICKS)
    xl = [f"{v:.2f}" for v in X_TICKS]
    if i == 3:
        xl[0] = ""
    ax.set_xticklabels(xl)
    yt = [k * 1e-6 for k in range(0, Y_MAX[i] + 1, Y_STEP[i])]
    ax.set_yticks(yt)
    ax.set_yticklabels([f"{v:.6f}" for v in yt])
    if i == 6:
        ax.yaxis.set_minor_locator(FixedLocator([k * 0.5e-6 for k in range(0, 21)]))
        ax.tick_params(axis="y", which="minor", direction="out", length=3, width=1.2, color="black")
    sns.despine(ax=ax)
    for sp in ("left", "bottom"):
        ax.spines[sp].set_linewidth(1.6)
        ax.spines[sp].set_color("black")
    ax.tick_params(axis="both", which="major", direction="out", length=5, width=1.5, color="black")
    ax.tick_params(axis="y", which="major", pad=1.5)
    ax.tick_params(axis="x", which="major", pad=3 if i < 4 else 2)
    for lbl in ax.get_yticklabels():
        lbl.set_fontfamily("DejaVu Sans")
        lbl.set_fontweight("bold")
        lbl.set_fontsize(6.7)
        lbl.set_color("#111111")
    for lbl in ax.get_xticklabels():
        lbl.set_fontfamily("Liberation Sans")
        lbl.set_fontweight("bold")
        lbl.set_fontsize(7.6)
        lbl.set_color("#111111")
    ax.set_facecolor("none")

renderer = fig.canvas.get_renderer()
for i in range(7):
    lx, ly = LETTER_POS[i]
    fig.text(fx(lx), fy(ly), LETTERS[i], fontsize=22.5, family="Liberation Sans",
             ha="left", va="baseline", color="black")
    tx, ty = TITLE_POS[i]
    tt = fig.text(fx(tx), fy(ty), "Kinesin", fontsize=14.5, family="DejaVu Sans",
                  ha="left", va="baseline", color="#111111")
    bb = tt.get_window_extent(renderer=renderer)
    fig.text((bb.x1 + 1) / W, fy(ty - 8), SUPERSCRIPTS[i], fontsize=8.7,
             family="DejaVu Sans", ha="left", va="baseline", color="#111111")
    if YLAB_POS[i] is not None:
        yx, yy = YLAB_POS[i]
        fig.text(fx(yx), fy(yy), r"I*s$^{\mathbf{2}}$", rotation=90, fontsize=8,
                 family="Liberation Sans", fontweight="bold", ha="center", va="center")
    l, t, r, b = AX_BOX[i]
    fig.text(fx((l + r) / 2), fy(XLAB_Y[i]), "s", fontsize=XLAB_SIZE[i], family="Liberation Sans",
             fontweight="bold", ha="center", va="center")

# white box hiding the first tick label of panel d (as in the reference)
fig.add_artist(Rectangle((fx(955), fy(238)), 23 / W, 35 / H, transform=fig.transFigure,
                         facecolor="white", edgecolor="#d9d9d9", linewidth=0.7, zorder=10))

fig.savefig("out.png", dpi=100, facecolor="white")
